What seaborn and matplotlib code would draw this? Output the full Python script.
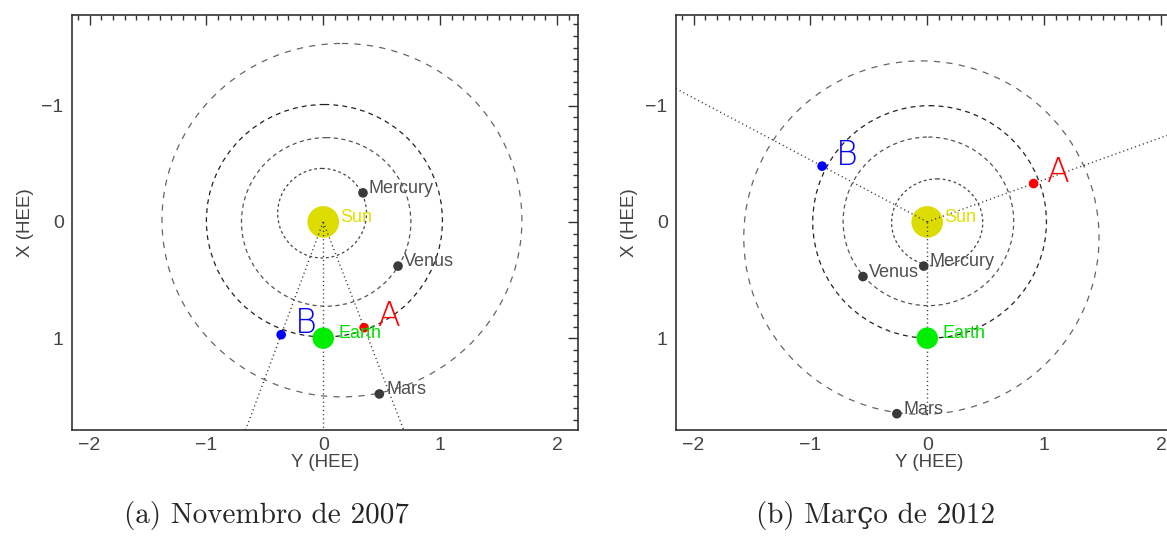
import numpy as np
import pandas as pd
import matplotlib
matplotlib.use("Agg")
import matplotlib.pyplot as plt
import seaborn as sns
from matplotlib.patches import Ellipse
from matplotlib.ticker import MultipleLocator, FixedLocator

# ---------------- data ----------------
bodies = ["Sun", "Mercury", "Venus", "Earth", "Mars", "A", "B"]

# Panel (a) Novembro de 2007: horizontal = Y (HEE), vertical = X (HEE)
a_y = [0.0, 0.34, 0.64, 0.0, 0.48, 0.35, -0.36]
a_x = [0.0, -0.25, 0.38, 1.0, 1.48, 0.91, 0.97]
# Panel (b) Março de 2012
b_y = [0.0, -0.03, -0.55, 0.0, -0.26, 0.91, -0.90]
b_x = [0.0, 0.38, 0.47, 1.0, 1.65, -0.33, -0.48]

orbit_names = ["Mercury", "Venus", "Earth", "Mars"]
a_orbit_cy = [-0.01, 0.025, 0.01, 0.16]
a_orbit_cx = [-0.075, 0.0, -0.01, -0.015]
a_orbit_ry = [0.38, 0.725, 1.01, 1.54]
a_orbit_rx = [0.385, 0.725, 1.0, 1.52]
b_orbit_cy = [0.085, 0.01, 0.02, -0.05]
b_orbit_cx = [0.005, -0.005, 0.0, 0.135]
b_orbit_ry = [0.39, 0.73, 1.0, 1.52]
b_orbit_rx = [0.375, 0.725, 1.0, 1.52]

# sight lines from the Sun through Earth, A and B (length in AU)
los_targets = ["Earth", "A", "B"]
a_los_len = [2.6, 2.6, 2.6]
b_los_len = [1.66, 3.0, 3.0]

captions = ["(a) Novembro de 2007", "(b) Março de 2012"]
xtick_vals = [-2, -1, 0, 1, 2]
ytick_vals = [-1, 0, 1]

# ---------------- style ----------------
sns.set_style("white")
plt.rcParams["font.family"] = ["Liberation Sans", "DejaVu Sans"]
plt.rcParams["lines.scale_dashes"] = False

body_color = {"Sun": "#dcdc00", "Mercury": "#3a3a3a", "Venus": "#3a3a3a",
              "Earth": "#00ee00", "Mars": "#3a3a3a", "A": "#ff0000", "B": "#0000ff"}
label_color = {"Sun": "#e0e000", "Mercury": "#505050", "Venus": "#505050",
               "Earth": "#00e000", "Mars": "#505050"}
body_size = {"Sun": 520, "Mercury": 48, "Venus": 48, "Earth": 240, "Mars": 48,
             "A": 48, "B": 48}
label_off = {"Sun": (12, 3), "Mercury": (4, 3), "Venus": (4, 3), "Earth": (11, 3),
             "Mars": (5, 3)}
orbit_style = {"Mercury": ("#444444", (0, (2.0, 2.0))),
               "Venus": ("#555555", (0, (3.0, 2.5))),
               "Earth": ("#222222", (0, (3.5, 3.0))),
               "Mars": ("#666666", (0, (4.5, 4.5)))}

W, H = 1167, 537
fig = plt.figure(figsize=(W / 100, H / 100), dpi=100)
ax_a = fig.add_axes([72 / W, 1 - 430 / H, 506 / W, 415 / H])
ax_b = fig.add_axes([676 / W, 1 - 430 / H, 506 / W, 415 / H])


def draw_panel(ax, ys, xs, ocy, ocx, ory, orx, los_len):
    df = pd.DataFrame({"body": bodies, "y": ys, "x": xs})
    pos = {r.body: (r.y, r.x) for r in df.itertuples()}
    # orbits
    for name, cy, cx, ry, rx in zip(orbit_names, ocy, ocx, ory, orx):
        col, ls = orbit_style[name]
        ax.add_patch(Ellipse((cy, cx), 2 * ry, 2 * rx, fill=False, ec=col,
                             lw=0.9, ls=ls, zorder=1))
    # sun
    sun = df[df.body == "Sun"]
    sns.scatterplot(data=sun, x="y", y="x", s=body_size["Sun"],
                    color=body_color["Sun"], edgecolor="none", ax=ax, zorder=2,
                    legend=False)
    # sight lines
    for tgt, L in zip(los_targets, los_len):
        ty, tx = pos[tgt]
        r = np.hypot(ty, tx)
        ldf = pd.DataFrame({"y": [0.0, ty * L / r], "x": [0.0, tx * L / r]})
        sns.lineplot(data=ldf, x="y", y="x", sort=False, estimator=None,
                     errorbar=None, ax=ax, color="#333333",
                     lw=1.0, linestyle=(0, (0.8, 2.2)), zorder=3)
    # planets and spacecraft
    for name in ["Mercury", "Venus", "Mars", "Earth", "A", "B"]:
        sub = df[df.body == name]
        sns.scatterplot(data=sub, x="y", y="x", s=body_size[name],
                        color=body_color[name], edgecolor="none", ax=ax,
                        zorder=4, legend=False)
    # labels
    for name in ["Sun", "Mercury", "Venus", "Earth", "Mars"]:
        ax.annotate(name, pos[name], xytext=label_off[name],
                    textcoords="offset points", ha="left", va="center",
                    color=label_color[name], fontsize=13, zorder=5)
    for name in ["A", "B"]:
        ax.annotate(name, pos[name], xytext=(18, 8), textcoords="offset points",
                    ha="center", va="center", color=body_color[name],
                    fontsize=24, family="DejaVu Sans", fontweight=200, zorder=5)

    ax.set_xlim(-2.15, 2.18)
    ax.set_ylim(1.79, -1.78)
    ax.xaxis.set_major_locator(FixedLocator(xtick_vals))
    ax.yaxis.set_major_locator(FixedLocator(ytick_vals))
    ax.xaxis.set_minor_locator(MultipleLocator(0.1))
    ax.yaxis.set_minor_locator(MultipleLocator(0.1))
    ax.tick_params(which="both", direction="in", top=True, right=True,
                   color="#333333", width=1.0)
    ax.tick_params(which="major", length=7, labelsize=14, labelcolor="#444444")
    ax.tick_params(which="minor", length=3.5)
    ax.tick_params(axis="x", pad=5)
    ax.tick_params(axis="y", pad=6)
    for sp in ax.spines.values():
        sp.set_color("#333333")
        sp.set_linewidth(1.2)
    ax.set_xlabel("Y (HEE)", fontsize=13.5, color="#444444", labelpad=0)
    ax.set_ylabel("X (HEE)", fontsize=13.5, color="#444444", labelpad=5)


draw_panel(ax_a, a_y, a_x, a_orbit_cy, a_orbit_cx, a_orbit_ry, a_orbit_rx, a_los_len)
draw_panel(ax_b, b_y, b_x, b_orbit_cy, b_orbit_cx, b_orbit_ry, b_orbit_rx, b_los_len)

for cap, xc in zip(captions, [267, 876]):
    fig.text(xc / W, 1 - 523 / H, cap, ha="center", va="baseline", fontsize=21,
             family=["cmr10", "DejaVu Serif"])

fig.savefig("out.png", dpi=100)
